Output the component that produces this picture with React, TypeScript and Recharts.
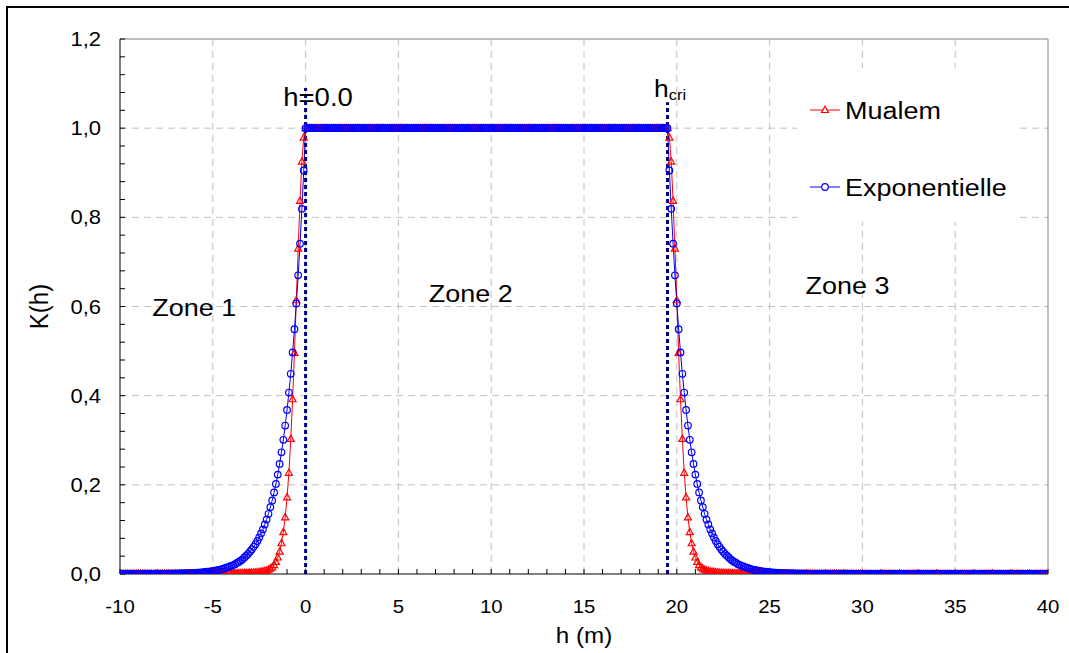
import React from "react"
import {
  LineChart,
  Line,
  XAxis,
  YAxis,
  CartesianGrid,
  ReferenceLine,
  ReferenceDot,
  Legend,
} from "recharts"

const FONT = "Arial, 'Liberation Sans', sans-serif"
const RED = "#ff0000"
const BLUE = "#0000ff"
const NAVY = "#000080"
const STRETCH = 1.1 // le texte de la figure d'origine est un peu élargi

// discrétisation en h (m) : pas de 0,1 m, zone saturée entre h = 0 et h = hcri
const H_STEP = 0.1
const H_CRI = 19.5
const LEFT_STEPS = 100 // -10 -> 0
const PLATEAU_STEPS = 195 // 0 -> 19.5
const RIGHT_STEPS = 205 // 19.5 -> 40

// K(h), par nombre de pas depuis le bord de la zone 2
const mualemDecay = [
  0.979, 0.925, 0.837, 0.73, 0.614, 0.496, 0.392, 0.303, 0.227, 0.172,
  0.127, 0.094, 0.069, 0.05, 0.037, 0.027, 0.02, 0.015, 0.012, 0.0095,
  0.0078, 0.0065, 0.0055, 0.0048, 0.0042, 0.0037, 0.0033, 0.003, 0.0027, 0.0025,
  0.0023, 0.0021, 0.002, 0.0018, 0.0017, 0.0016, 0.0015, 0.0014, 0.0013, 0.0012,
  0.0011, 0.0011, 0.0011, 0.0011, 0.0011, 0.001, 0.001, 0.001, 0.001, 0.001,
  0.0009, 0.0009, 0.0009, 0.0009, 0.0009, 0.0008, 0.0008, 0.0008, 0.0008, 0.0008,
  0.0007, 0.0007, 0.0007, 0.0007, 0.0007, 0.0007, 0.0007, 0.0007, 0.0007, 0.0007,
  0.0006, 0.0006, 0.0006, 0.0006, 0.0006, 0.0006, 0.0006, 0.0006, 0.0006, 0.0006,
  0.0005, 0.0005, 0.0005, 0.0005, 0.0005, 0.0005, 0.0005, 0.0005, 0.0005, 0.0005,
  0.0004, 0.0004, 0.0004, 0.0004, 0.0004, 0.0004, 0.0004, 0.0004, 0.0004, 0.0004,
]

const expoDecay = [
  0.905, 0.819, 0.741, 0.67, 0.607, 0.549, 0.497, 0.449, 0.407, 0.368,
  0.333, 0.301, 0.273, 0.247, 0.223, 0.202, 0.183, 0.165, 0.15, 0.135,
  0.122, 0.111, 0.1, 0.091, 0.082, 0.074, 0.067, 0.061, 0.055, 0.05,
  0.045, 0.041, 0.037, 0.033, 0.03, 0.027, 0.025, 0.022, 0.02, 0.018,
  0.017, 0.015, 0.014, 0.012, 0.011, 0.01, 0.009, 0.008, 0.0075, 0.0067,
  0.006, 0.0055, 0.005, 0.0045, 0.004, 0.0037, 0.0033, 0.003, 0.0027, 0.0025,
  0.0022, 0.002, 0.0018, 0.0017, 0.0015, 0.0014, 0.0012, 0.0011, 0.001, 0.0009,
  0.0008, 0.0008, 0.0007, 0.0006, 0.0006, 0.0005, 0.0005, 0.0004, 0.0004, 0.0003,
  0.0003, 0.0003, 0.0002, 0.0002, 0.0002, 0.0002, 0.0002, 0.0002, 0.0001, 0.0001,
  0.0001, 0.0001, 0.0001, 0.0001, 0.0001, 0.0001, 0.0001, 0, 0, 0,
]

const xTicks = [
  -10, -9, -8, -7, -6, -5, -4, -3, -2, -1, 0, 1, 2, 3, 4, 5, 6, 7, 8, 9, 10,
  11, 12, 13, 14, 15, 16, 17, 18, 19, 20, 21, 22, 23, 24, 25, 26, 27, 28, 29, 30,
  31, 32, 33, 34, 35, 36, 37, 38, 39, 40,
]
const xGrid = [-5, 0, 5, 10, 15, 20, 25, 30, 35]
const yTicks = [
  0, 0.04, 0.08, 0.12, 0.16, 0.2, 0.24, 0.28, 0.32, 0.36, 0.4, 0.44, 0.48, 0.52,
  0.56, 0.6, 0.64, 0.68, 0.72, 0.76, 0.8, 0.84, 0.88, 0.92, 0.96, 1, 1.04, 1.08,
  1.12, 1.16, 1.2,
]
const yGrid = [0.2, 0.4, 0.6, 0.8, 1]

const legendOrder = ["mualem", "expo"]

const zoneLabels = [
  { text: "Zone 1", h: -6.0, k: 0.6 },
  { text: "Zone 2", h: 8.9, k: 0.63 },
  { text: "Zone 3", h: 29.2, k: 0.648 },
]

const round1 = (v: number) => Math.round(v * 10) / 10

const rows: { h: number; mualem: number; expo: number }[] = []
for (let d = LEFT_STEPS; d >= 1; d--) {
  rows.push({ h: round1(-d * H_STEP), mualem: mualemDecay[d - 1] ?? 0, expo: expoDecay[d - 1] ?? 0 })
}
for (let i = 0; i <= PLATEAU_STEPS; i++) {
  rows.push({ h: round1(i * H_STEP), mualem: 1, expo: 1 })
}
for (let d = 1; d <= RIGHT_STEPS; d++) {
  rows.push({ h: round1(H_CRI + d * H_STEP), mualem: mualemDecay[d - 1] ?? 0, expo: expoDecay[d - 1] ?? 0 })
}

// texte SVG élargi horizontalement autour de son point d'ancrage
function SText({ x, y, size, anchor = "start", baseline, rotate, children }: any) {
  const t = `translate(${x},${y}) scale(${STRETCH},1)${rotate ? ` rotate(${rotate})` : ""}`
  return (
    <text
      transform={t}
      x={0}
      y={0}
      textAnchor={anchor}
      dominantBaseline={baseline}
      fontSize={size}
      fill="#000"
      fontFamily={FONT}
    >
      {children}
    </text>
  )
}

function Tri({ cx, cy, color = RED, fill = "none" }: { cx: number; cy: number; color?: string; fill?: string }) {
  return (
    <path
      d={`M${cx},${cy - 3.8} L${cx + 3.5},${cy + 2.5} L${cx - 3.5},${cy + 2.5} Z`}
      fill={fill}
      stroke={color}
      strokeWidth={1.2}
    />
  )
}

const triangleDot = (p: any) => {
  if (p.cx == null || p.cy == null) return <g key={`t-${p.index}`} />
  return (
    <g key={`t-${p.index}`}>
      <Tri cx={p.cx} cy={p.cy} />
    </g>
  )
}

const XTick = ({ x, y, payload }: any) => {
  if (payload.value % 5 !== 0) return <g />
  return (
    <SText x={x} y={y + 13} size={18.5} anchor="middle">
      {payload.value}
    </SText>
  )
}

const YTick = ({ x, y, payload }: any) => {
  const v = payload.value
  if (Math.abs(v * 5 - Math.round(v * 5)) > 1e-6) return <g />
  return (
    <SText x={x} y={y + 7} size={20} anchor="end">
      {v.toFixed(1).replace(".", ",")}
    </SText>
  )
}

const renderLegend = (props: any) => {
  const items = [...(props.payload ?? [])].sort(
    (a: any, b: any) => legendOrder.indexOf(a.dataKey) - legendOrder.indexOf(b.dataKey)
  )
  return (
    <svg width={220} height={154} style={{ display: "block" }}>
      {items.map((entry: any, i: number) => {
        const y = 42 + i * 77
        return (
          <g key={entry.value}>
            <line x1={13} x2={43} y1={y} y2={y} stroke={entry.color} strokeWidth={1} />
            {entry.dataKey === "mualem" ? (
              <Tri cx={28} cy={y} color={entry.color} fill="#fff" />
            ) : (
              <circle cx={28} cy={y} r={3.3} fill="#fff" stroke={entry.color} strokeWidth={1.2} />
            )}
            <SText x={48} y={y + 9} size={24.5}>
              {entry.value}
            </SText>
          </g>
        )
      })}
    </svg>
  )
}

export default function App() {
  return (
    <div style={{ position: "absolute", left: 0, top: 0, width: 1069, height: 653, background: "#fff", overflow: "hidden" }}>
      <LineChart
        width={1069}
        height={653}
        data={rows}
        margin={{ top: 39, right: 21, bottom: 0, left: 0 }}
        style={{ fontFamily: FONT }}
      >
        <CartesianGrid
          stroke="#c0c0c0"
          strokeDasharray="7 5"
          verticalValues={xGrid}
          horizontalValues={yGrid}
        />
        <XAxis
          type="number"
          dataKey="h"
          domain={[-10, 40]}
          ticks={xTicks}
          interval={0}
          allowDataOverflow
          height={79}
          tickSize={-5}
          tickMargin={31}
          tick={<XTick />}
          axisLine={{ stroke: "#000" }}
          tickLine={{ stroke: "#000" }}
          label={(p: any) => {
            const vb = p.viewBox
            return (
              <SText x={vb.x + vb.width / 2} y={vb.y + 69} size={22} anchor="middle">
                h (m)
              </SText>
            )
          }}
        />
        <YAxis
          type="number"
          domain={[0, 1.2]}
          ticks={yTicks}
          interval={0}
          allowDataOverflow
          width={120}
          tickSize={-5}
          tickMargin={24}
          tick={<YTick />}
          axisLine={{ stroke: "#000" }}
          tickLine={{ stroke: "#000" }}
          label={(p: any) => {
            const vb = p.viewBox
            return (
              <SText x={vb.x + 48} y={vb.y + vb.height / 2} size={24} anchor="middle" rotate={-90}>
                K(h)
              </SText>
            )
          }}
        />
        <ReferenceLine y={1.2} stroke="#808080" />
        <ReferenceLine x={40} stroke="#808080" />
        <Line
          type="linear"
          dataKey="mualem"
          name="Mualem"
          stroke={RED}
          strokeWidth={1}
          dot={triangleDot}
          activeDot={false}
          isAnimationActive={false}
        />
        <Line
          type="linear"
          dataKey="expo"
          name="Exponentielle"
          stroke={BLUE}
          strokeWidth={1}
          dot={{ r: 3.3, fill: "none", stroke: BLUE, strokeWidth: 1.2 }}
          activeDot={false}
          isAnimationActive={false}
        />
        <ReferenceLine
          segment={[{ x: 0, y: 0 }, { x: 0, y: 1.09 }]}
          stroke={NAVY}
          strokeWidth={3}
          strokeDasharray="4 3"
        />
        <ReferenceLine
          segment={[{ x: H_CRI, y: 0 }, { x: H_CRI, y: 1.058 }]}
          stroke={NAVY}
          strokeWidth={3}
          strokeDasharray="4 3"
        />
        <ReferenceDot
          x={0.67}
          y={1.049}
          r={0}
          stroke="none"
          fill="none"
          label={(p: any) => (
            <SText x={p.viewBox.x} y={p.viewBox.y} size={25} anchor="middle">
              h=0.0
            </SText>
          )}
        />
        <ReferenceDot
          x={18.77}
          y={1.0695}
          r={0}
          stroke="none"
          fill="none"
          label={(p: any) => (
            <SText x={p.viewBox.x} y={p.viewBox.y} size={24}>
              h
              <tspan fontSize={15} dy={3}>cri</tspan>
            </SText>
          )}
        />
        {zoneLabels.map((z) => (
          <ReferenceDot
            key={z.text}
            x={z.h}
            y={z.k}
            r={0}
            stroke="none"
            fill="none"
            label={(p: any) => (
              <SText x={p.viewBox.x} y={p.viewBox.y + 9} size={24.5} anchor="middle">
                {z.text}
              </SText>
            )}
          />
        ))}
        <Legend
          layout="horizontal"
          verticalAlign="middle"
          align="center"
          wrapperStyle={{ left: 797, top: 68, right: "auto", bottom: "auto", width: 220, height: 154, background: "#fff" }}
          content={renderLegend}
        />
      </LineChart>
      <div
        style={{
          position: "absolute",
          left: 6,
          top: 6,
          width: 1100,
          height: 700,
          border: "2px solid #000",
          pointerEvents: "none",
        }}
      />
    </div>
  )
}
